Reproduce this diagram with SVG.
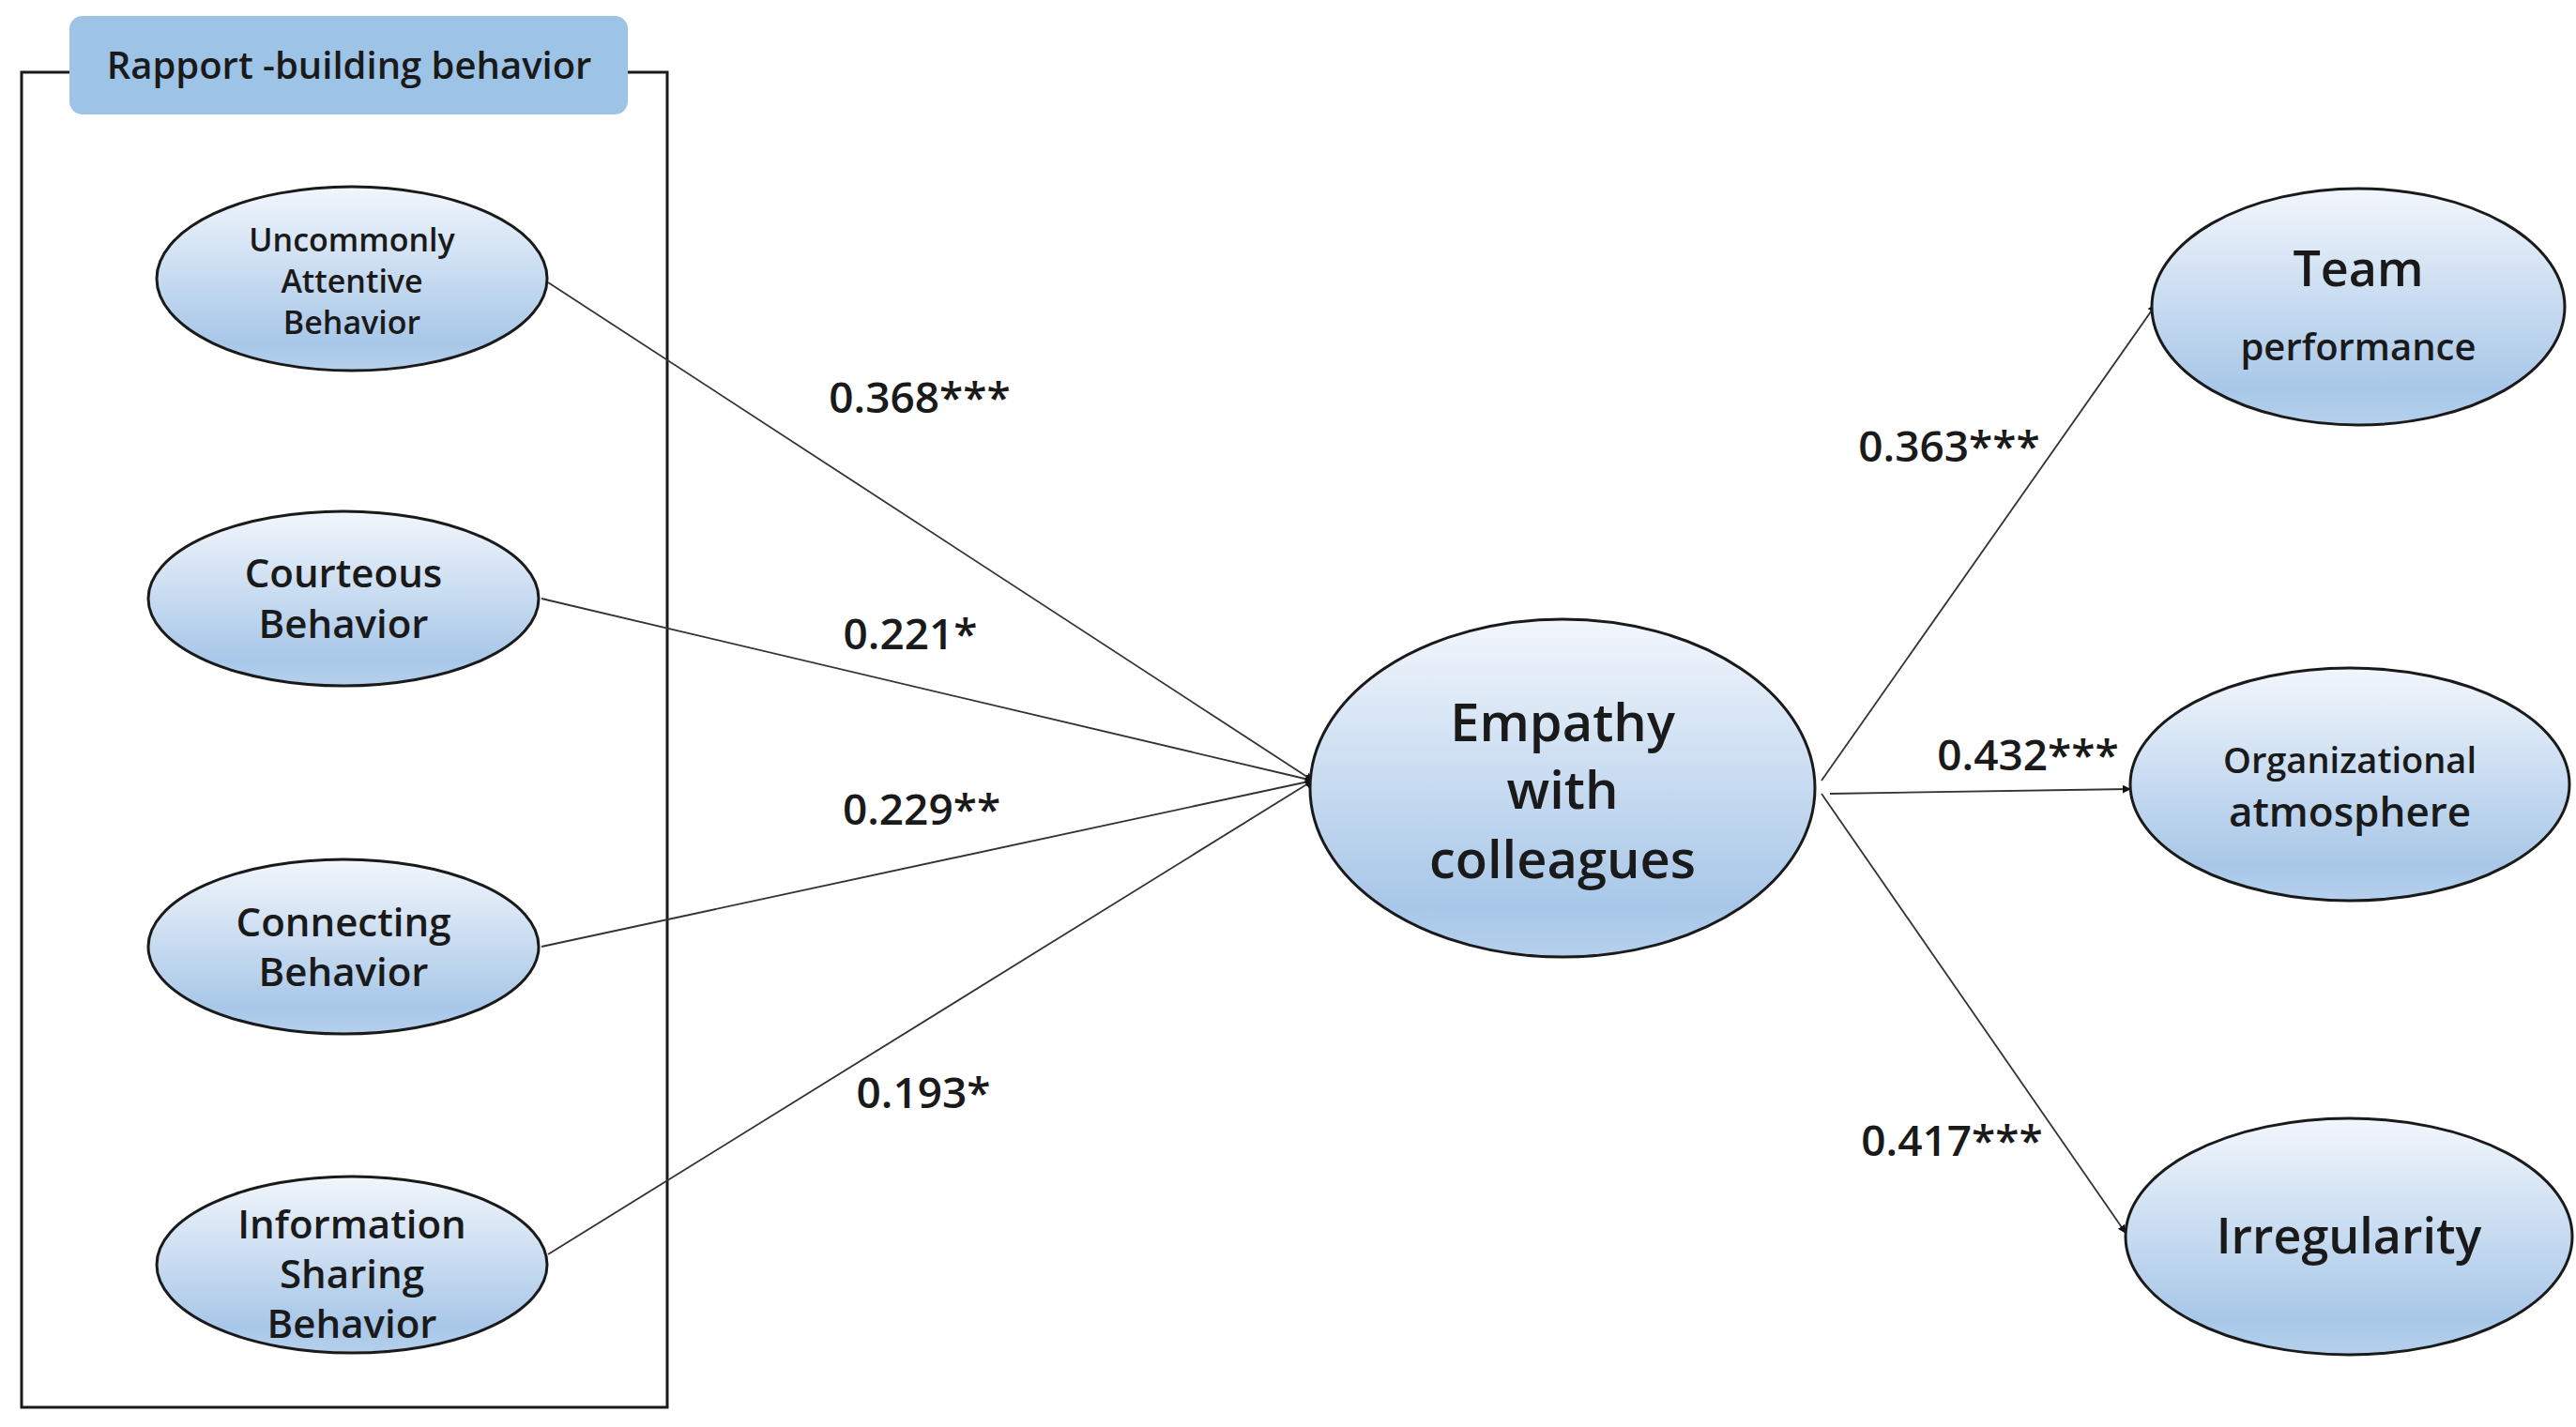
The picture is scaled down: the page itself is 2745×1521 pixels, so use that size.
<svg xmlns="http://www.w3.org/2000/svg" width="2745" height="1521" viewBox="0 0 2745 1521">
<defs>
<linearGradient id="g" x1="0" y1="0" x2="0" y2="1"><stop offset="0" stop-color="#f2f6fc"/><stop offset="0.85" stop-color="#a8c7e8"/><stop offset="1" stop-color="#b5d0ec"/></linearGradient>
<marker id="a" viewBox="0 0 10 10" refX="9" refY="5" markerWidth="5" markerHeight="5" orient="auto"><path d="M0,0 L10,5 L0,10 z" fill="#111"/></marker>
</defs>
<style>
.n{fill:url(#g);stroke:#1a1a1a;stroke-width:3}
text{font-family:"Open Sans","DejaVu Sans",sans-serif;font-weight:600;fill:#1a1a1a;text-anchor:middle}
.c{stroke:#333;stroke-width:1.8;fill:none;marker-end:url(#a)}
.l{font-size:46px}
</style>
<rect width="2745" height="1521" fill="#fff"/>
<g id="frame"><path d="M74,77 H23 V1500 H711 V77 H669" fill="none" stroke="#1a1a1a" stroke-width="3"/>
<rect x="74" y="17" width="595" height="105" rx="14" fill="#9dc3e6"/>
<text x="372" y="84" font-size="40">Rapport -building behavior</text></g>
<g id="connectors">
<line class="c" x1="584" y1="301" x2="1399" y2="832"/>
<line class="c" x1="577" y1="638" x2="1399" y2="832"/>
<line class="c" x1="577" y1="1009" x2="1399" y2="832"/>
<line class="c" x1="584" y1="1337" x2="1399" y2="832"/>
<line class="c" x1="1941" y1="832" x2="2297" y2="325"/>
<line class="c" x1="1950" y1="846" x2="2270" y2="841"/>
<line class="c" x1="1941" y1="846" x2="2265" y2="1314"/>
</g>
<g id="labels" class="l">
<text class="l" x="980" y="440">0.368***</text>
<text class="l" x="970" y="692">0.221*</text>
<text class="l" x="982" y="879">0.229**</text>
<text class="l" x="984" y="1181">0.193*</text>
<text class="l" x="2077" y="492">0.363***</text>
<text class="l" x="2161" y="821">0.432***</text>
<text class="l" x="2080" y="1232">0.417***</text>
</g>
<g id="n1"><ellipse class="n" cx="375" cy="297" rx="208" ry="98"/>
<text font-size="34" x="375" y="268">Uncommonly</text><text font-size="34" x="375" y="312">Attentive</text><text font-size="34" x="375" y="356">Behavior</text></g>
<g id="n2"><ellipse class="n" cx="366" cy="638" rx="208" ry="93"/>
<text font-size="42" x="366" y="626">Courteous</text><text font-size="42" x="366" y="680">Behavior</text></g>
<g id="n3"><ellipse class="n" cx="366" cy="1009" rx="208" ry="93"/>
<text font-size="42" x="366" y="998">Connecting</text><text font-size="42" x="366" y="1051">Behavior</text></g>
<g id="n4"><ellipse class="n" cx="375" cy="1348" rx="208" ry="94"/>
<text font-size="42" x="375" y="1320">Information</text><text font-size="42" x="375" y="1373">Sharing</text><text font-size="42" x="375" y="1426">Behavior</text></g>
<g id="n5"><ellipse class="n" cx="1665" cy="840" rx="269" ry="180"/>
<text font-size="56" x="1665" y="790">Empathy</text><text font-size="56" x="1665" y="862">with</text><text font-size="56" x="1665" y="936">colleagues</text></g>
<g id="n6"><ellipse class="n" cx="2513" cy="327" rx="220" ry="126"/>
<text font-size="52" x="2513" y="305">Team</text><text font-size="40" x="2513" y="384">performance</text></g>
<g id="n7"><ellipse class="n" cx="2504" cy="836" rx="234" ry="124"/>
<text font-size="38" x="2504" y="824">Organizational</text><text font-size="44" x="2504" y="881">atmosphere</text></g>
<g id="n8"><ellipse class="n" cx="2503" cy="1318" rx="238" ry="126"/>
<text font-size="52" x="2503" y="1336">Irregularity</text></g>
</svg>
